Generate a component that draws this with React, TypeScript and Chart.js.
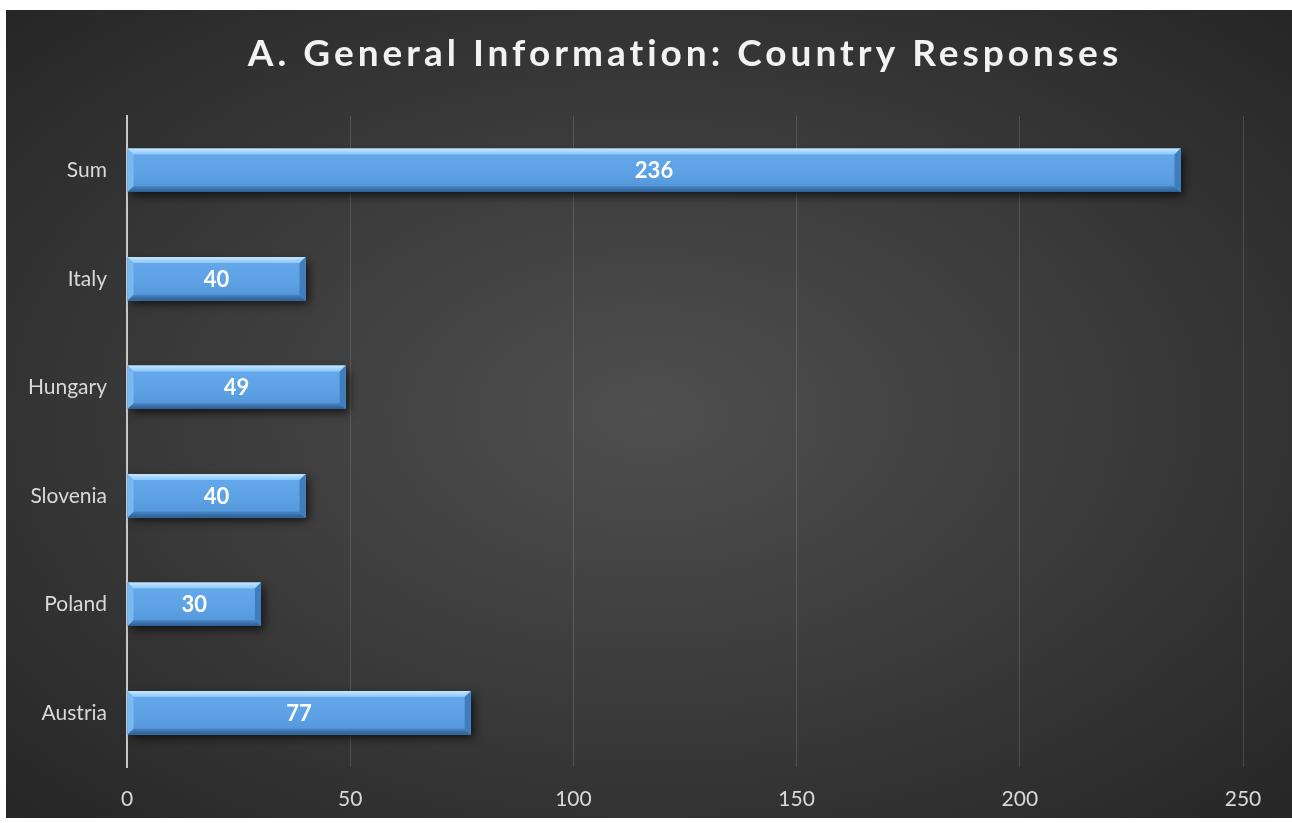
import React, { useEffect, useRef } from "react";
import { Chart, registerables } from "chart.js";

Chart.register(...registerables);

const TITLE = "A. General Information: Country Responses";
const categories = ["Sum", "Italy", "Hungary", "Slovenia", "Poland", "Austria"];
const responses = [236, 40, 49, 40, 30, 77];
const xTicks = [0, 50, 100, 150, 200, 250];

const FONT = "Lato, 'Open Sans', sans-serif";

const bevelPlugin = {
  id: "bevelBars",
  beforeDatasetsDraw(chart: any) {
    const ctx = chart.ctx;
    ctx.save();
    ctx.shadowColor = "rgba(0,0,0,0.7)";
    ctx.shadowBlur = 9;
    ctx.shadowOffsetX = 3;
    ctx.shadowOffsetY = 4;
  },
  afterDatasetsDraw(chart: any) {
    const ctx = chart.ctx;
    ctx.restore();
    const meta = chart.getDatasetMeta(0);
    meta.data.forEach((el: any, i: number) => {
      const x0 = Math.min(el.base, el.x);
      const x1 = Math.max(el.base, el.x);
      const h = el.height;
      const y0 = el.y - h / 2;
      const y1 = el.y + h / 2;
      ctx.save();
      // body
      const g = ctx.createLinearGradient(0, y0, 0, y1);
      g.addColorStop(0, "#66aaec");
      g.addColorStop(0.6, "#5ca1e4");
      g.addColorStop(1, "#5394d6");
      ctx.fillStyle = g;
      ctx.fillRect(x0, y0, x1 - x0, h);
      const b = 6;
      // top bevel (light)
      ctx.beginPath();
      ctx.moveTo(x0, y0);
      ctx.lineTo(x1, y0);
      ctx.lineTo(x1 - b, y0 + b);
      ctx.lineTo(x0 + b, y0 + b);
      ctx.closePath();
      const gt = ctx.createLinearGradient(0, y0, 0, y0 + b);
      gt.addColorStop(0, "#c4e6fe");
      gt.addColorStop(1, "#8cc6f6");
      ctx.fillStyle = gt;
      ctx.fill();
      // bottom bevel (dark)
      ctx.beginPath();
      ctx.moveTo(x0, y1);
      ctx.lineTo(x1, y1);
      ctx.lineTo(x1 - b, y1 - b);
      ctx.lineTo(x0 + b, y1 - b);
      ctx.closePath();
      const gb = ctx.createLinearGradient(0, y1 - b, 0, y1);
      gb.addColorStop(0, "#4a88c8");
      gb.addColorStop(1, "#2c5d92");
      ctx.fillStyle = gb;
      ctx.fill();
      // right bevel
      ctx.beginPath();
      ctx.moveTo(x1, y0);
      ctx.lineTo(x1 - b, y0 + b);
      ctx.lineTo(x1 - b, y1 - b);
      ctx.lineTo(x1, y1);
      ctx.closePath();
      ctx.fillStyle = "#3f7dbd";
      ctx.fill();
      // left bevel
      ctx.beginPath();
      ctx.moveTo(x0, y0);
      ctx.lineTo(x0 + b, y0 + b);
      ctx.lineTo(x0 + b, y1 - b);
      ctx.lineTo(x0, y1);
      ctx.closePath();
      ctx.fillStyle = "#7ab8f0";
      ctx.fill();
      // label
      ctx.fillStyle = "#ffffff";
      ctx.font = `bold 22px ${FONT}`;
      ctx.textAlign = "center";
      ctx.textBaseline = "middle";
      ctx.fillText(String(responses[i]), (x0 + x1) / 2, el.y + 1);
      ctx.restore();
    });
  },
};

const titlePlugin = {
  id: "spacedTitle",
  afterDraw(chart: any) {
    const ctx = chart.ctx;
    const area = chart.chartArea;
    ctx.save();
    ctx.font = `bold 37px ${FONT}`;
    try {
      (ctx as any).letterSpacing = "4px";
    } catch (e) {}
    ctx.fillStyle = "#f2f2f2";
    ctx.textAlign = "center";
    ctx.textBaseline = "middle";
    ctx.fillText(TITLE, (area.left + area.right) / 2, 44);
    ctx.restore();
  },
};

export default function App() {
  const ref = useRef<HTMLCanvasElement | null>(null);
  useEffect(() => {
    if (!ref.current) return;
    const chart = new Chart(ref.current, {
      type: "bar",
      data: {
        labels: categories,
        datasets: [
          {
            data: responses,
            backgroundColor: "#5a9de0",
            borderWidth: 0,
            barPercentage: 0.8,
            categoryPercentage: 0.5,
          },
        ],
      },
      options: {
        indexAxis: "y",
        animation: false,
        responsive: true,
        maintainAspectRatio: false,
        layout: { padding: { top: 106, right: 49, left: 0, bottom: 0 } },
        plugins: {
          legend: { display: false },
          title: { display: false },
          tooltip: { enabled: false },
        },
        scales: {
          x: {
            min: 0,
            max: 250,
            afterBuildTicks: (s: any) => {
              s.ticks = xTicks.map((v) => ({ value: v }));
            },
            afterFit: (s: any) => {
              s.height = 51;
            },
            grid: {
              color: "rgba(255,255,255,0.14)",
              lineWidth: 1,
              drawTicks: false,
            },
            border: { display: false },
            ticks: {
              color: "#d9d9d9",
              font: { family: FONT, size: 21 },
              padding: 20,
            },
          },
          y: {
            afterFit: (s: any) => {
              s.width = 121;
            },
            grid: { display: false, drawTicks: false },
            border: { display: true, color: "#c8c8c8", width: 2 },
            ticks: {
              color: "#d9d9d9",
              font: { family: FONT, size: 21 },
              padding: 20,
            },
          },
        },
      },
      plugins: [bevelPlugin, titlePlugin],
    });
    return () => chart.destroy();
  }, []);

  return (
    <div
      style={{
        position: "fixed",
        left: 6,
        top: 10,
        width: 1286,
        height: 808,
        background:
          "radial-gradient(ellipse farthest-corner at 50% 50%, #4f4f4f 0%, #3b3b3b 50%, #262626 100%)",
      }}
    >
      <canvas ref={ref} />
    </div>
  );
}
